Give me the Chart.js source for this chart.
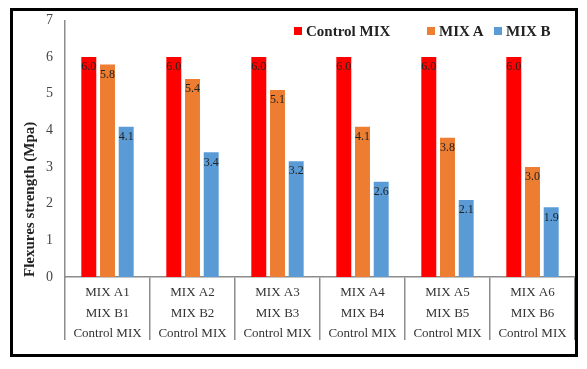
<!DOCTYPE html>
<html>
<head>
<meta charset="utf-8">
<script src="https://cdn.jsdelivr.net/npm/chart.js@4.4.0/dist/chart.umd.min.js"></script>
<style>
  body { margin: 0; background: #fff; }
  #wrap { position: relative; width: 587px; height: 369px; }
  #frame { position: absolute; left: 10px; top: 8px; width: 562px; height: 343px; border: 3px solid #000; }
  #legend { position: absolute; left: 0; top: 23px; font: bold 15px "Liberation Serif", serif; color: #222; white-space: nowrap; }
  #legend .it { position: absolute; top: 0; }
  #legend .sw { display: inline-block; width: 8px; height: 8px; margin-right: 4px; vertical-align: 1px; }
  canvas { position: absolute; left: 0; top: 0; }
</style>
</head>
<body>
<div id="wrap">
  <canvas id="myChart" width="587" height="369"></canvas>
  <div id="frame"></div>
  <div id="legend"></div>
</div>
<script>
// categories (multi-line tick labels)
const categories = [
  ["MIX A1", "MIX B1", "Control MIX"],
  ["MIX A2", "MIX B2", "Control MIX"],
  ["MIX A3", "MIX B3", "Control MIX"],
  ["MIX A4", "MIX B4", "Control MIX"],
  ["MIX A5", "MIX B5", "Control MIX"],
  ["MIX A6", "MIX B6", "Control MIX"]
];
const seriesNames = ["Control MIX", "MIX A", "MIX B"];
const controlMix = [6.0, 6.0, 6.0, 6.0, 6.0, 6.0];
const mixA = [5.8, 5.4, 5.1, 4.1, 3.8, 3.0];
const mixB = [4.1, 3.4, 3.16, 2.6, 2.1, 1.9];
const colors = ["#FF0000", "#ED7D31", "#5B9BD5"];
const legendLeft = [294, 427, 494];

// legend (html)
let legendHtml = "";
for (let i = 0; i < seriesNames.length; i++) {
  legendHtml += `<span class="it" style="left:${legendLeft[i]}px"><span class="sw" style="background:${colors[i]}"></span>${seriesNames[i]}</span>`;
}
document.getElementById("legend").innerHTML = legendHtml;

// value labels inside top of bars
const valueLabels = {
  id: "valueLabels",
  afterDatasetsDraw(chart) {
    const ctx = chart.ctx;
    ctx.save();
    ctx.font = "12px 'Liberation Serif', serif";
    ctx.fillStyle = "#222";
    ctx.textAlign = "center";
    ctx.textBaseline = "middle";
    chart.data.datasets.forEach((ds, i) => {
      chart.getDatasetMeta(i).data.forEach((bar, j) => {
        ctx.fillText(ds.data[j].toFixed(1), bar.x, bar.y + 10);
      });
    });
    ctx.restore();
  }
};

const data = {
  labels: categories,
  datasets: [
    { label: seriesNames[0], data: controlMix, backgroundColor: colors[0] },
    { label: seriesNames[1], data: mixA, backgroundColor: colors[1] },
    { label: seriesNames[2], data: mixB, backgroundColor: colors[2] }
  ]
};

const config = {
  type: "bar",
  data: data,
  options: {
    responsive: false,
    animation: false,
    categoryPercentage: 0.66,
    barPercentage: 0.8,
    layout: { padding: { left: 0, top: 19, right: 12, bottom: 0 } },
    plugins: {
      legend: { display: false },
      tooltip: { enabled: false }
    },
    scales: {
      x: {
        afterFit: (scale) => { scale.height = 92; },
        grid: { offset: true, drawOnChartArea: false, tickLength: 63, color: "#8c8c8c", lineWidth: 1.5 },
        border: { color: "#8c8c8c", width: 1.5 },
        ticks: {
          padding: -58,
          color: "#333",
          font: { family: "'Liberation Serif', serif", size: 13, lineHeight: 1.6 }
        }
      },
      y: {
        min: 0,
        max: 7,
        afterFit: (scale) => { scale.width = 65; },
        grid: { display: false, drawTicks: false },
        border: { color: "#8c8c8c", width: 1.5 },
        ticks: {
          stepSize: 1,
          padding: 12,
          color: "#444",
          font: { family: "'Liberation Serif', serif", size: 14 }
        },
        title: {
          display: true,
          text: "Flexures strength (Mpa)",
          align: "start",
          color: "#222",
          padding: { top: 21, bottom: 0 },
          font: { family: "'Liberation Serif', serif", size: 15, weight: "bold" }
        }
      }
    }
  },
  plugins: [valueLabels]
};

const myChart = new Chart(document.getElementById("myChart"), config);
</script>
</body>
</html>
